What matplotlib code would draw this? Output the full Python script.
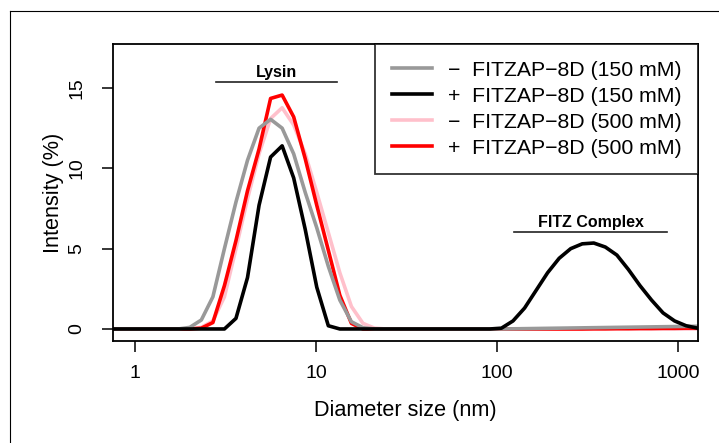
import matplotlib
matplotlib.use('Agg')
import matplotlib.pyplot as plt
from matplotlib.lines import Line2D

plt.rcParams['font.family'] = ['Liberation Sans', 'DejaVu Sans']

# DLS size bins (nm)
size = [0.7195, 0.8332, 0.9649, 1.117, 1.294, 1.499, 1.736,
        2.010, 2.328, 2.696, 3.122, 3.615, 4.187, 4.849, 5.615, 6.503, 7.531, 8.721,
        10.10, 11.70, 13.54, 15.69, 18.17, 21.04,
        24.36, 28.21, 32.67, 37.84, 43.82, 50.75, 58.77, 68.06, 78.82, 91.28,
        105.7, 122.4, 141.8, 164.2, 190.1, 220.2, 255.0, 295.3, 342.0, 396.1,
        458.7, 531.2, 615.1, 712.4, 825.0, 955.4, 1106, 1281, 1484]

minus_150 = [0, 0, 0, 0, 0, 0, 0,
             0.1, 0.56, 2.0, 5.0, 7.9, 10.5, 12.5, 13.05, 12.5, 10.9, 8.5,
             6.3, 3.9, 1.8, 0.45, 0.08, 0,
             0, 0, 0, 0, 0, 0, 0, 0, 0, 0,
             0, 0.01, 0.02, 0.03, 0.04, 0.05, 0.06, 0.07, 0.08, 0.09,
             0.10, 0.11, 0.12, 0.13, 0.14, 0.15, 0.16, 0.17, 0.18]

plus_150 = [0, 0, 0, 0, 0, 0, 0,
            0, 0, 0, 0, 0.66, 3.2, 7.7, 10.7, 11.4, 9.4, 6.2,
            2.6, 0.2, 0, 0, 0, 0,
            0, 0, 0, 0, 0, 0, 0, 0, 0, 0,
            0.05, 0.5, 1.3, 2.4, 3.5, 4.4, 5.0, 5.3, 5.35, 5.1,
            4.6, 3.7, 2.7, 1.8, 1.0, 0.5, 0.2, 0.05, 0]

minus_500 = [0, 0, 0, 0, 0, 0, 0,
             0, 0.1, 0.5, 2.0, 5.0, 8.1, 10.9, 13.1, 13.77, 12.7, 10.9,
             8.5, 6.0, 3.5, 1.4, 0.35, 0.05,
             0, 0, 0, 0, 0, 0, 0, 0, 0, 0,
             0, 0, 0, 0, 0, 0, 0, 0, 0, 0,
             0, 0, 0, 0, 0, 0, 0, 0, 0]

plus_500 = [0, 0, 0, 0, 0, 0, 0,
            0, 0.05, 0.4, 2.7, 5.5, 8.6, 11.2, 14.35, 14.56, 13.2, 10.6,
            7.7, 4.9, 2.1, 0.35, 0, 0,
            0, 0, 0, 0, 0, 0, 0, 0, 0, 0,
            0, 0, 0, 0, 0, 0, 0, 0, 0.01, 0.01,
            0.02, 0.02, 0.03, 0.03, 0.04, 0.04, 0.05, 0.05, 0.06]

labels = ['\u2212  FITZAP\u22128D (150 mM)', '+  FITZAP\u22128D (150 mM)',
          '\u2212  FITZAP\u22128D (500 mM)', '+  FITZAP\u22128D (500 mM)']
colors = ['#999999', 'black', '#FFC0CB', 'red']

fig = plt.figure(figsize=(7.19, 4.43), dpi=100)
ax = fig.add_axes([0.157, 0.2302, 0.814, 0.6705])

lw = 2.6
ax.plot(size, minus_500, color=colors[2], lw=lw)
ax.plot(size, plus_500, color=colors[3], lw=lw)
ax.plot(size, minus_150, color=colors[0], lw=lw)
ax.plot(size, plus_150, color=colors[1], lw=lw)

ax.set_xscale('log')
ax.set_xlim(0.756, 1289)
ax.set_ylim(-0.75, 17.74)
ax.set_xticks([1, 10, 100, 1000])
ax.set_xticklabels(['1', '10', '100', '1000'])
ax.minorticks_off()
ax.set_yticks([0, 5, 10, 15])
ax.set_yticklabels(['0', '5', '10', '15'], rotation=90, va='center')
ax.tick_params(axis='both', length=8, width=1.1, labelsize=14, direction='out')
ax.tick_params(axis='x', pad=9.5)
ax.tick_params(axis='y', pad=12)
for s in ax.spines.values():
    s.set_linewidth(1.3)

ax.set_xlabel('Diameter size (nm)', fontsize=15.6, labelpad=13)
ax.set_ylabel('Intensity (%)', fontsize=15.6, labelpad=3)

# peak annotations
ax.plot([2.80, 13.06], [15.37, 15.37], color='#222222', lw=1.2)
ax.text(6.05, 15.5, 'Lysin', ha='center', va='bottom', fontsize=11.5, fontweight='bold')
ax.plot([124, 869], [6.02, 6.02], color='#222222', lw=1.2)
ax.text(328, 6.15, 'FITZ Complex', ha='center', va='bottom', fontsize=11.5, fontweight='bold')

handles = [Line2D([0], [0], color=c, lw=lw) for c in colors]
leg = ax.legend(handles, labels, loc='upper right', bbox_to_anchor=(1, 1),
                borderaxespad=0, fontsize=15.3, frameon=True, fancybox=False,
                edgecolor='black', handlelength=1.88, handletextpad=0.75,
                labelspacing=0.33, borderpad=0.78)
leg.get_frame().set_linewidth(1.3)

# outer frame of the exported figure
fig.add_artist(Line2D([10 / 719, 10 / 719], [0, 1 - 11 / 443], color='black', lw=0.8,
                      transform=fig.transFigure))
fig.add_artist(Line2D([10 / 719, 1], [1 - 11 / 443, 1 - 11 / 443], color='black', lw=0.8,
                      transform=fig.transFigure))

fig.savefig('out.png', dpi=100)
